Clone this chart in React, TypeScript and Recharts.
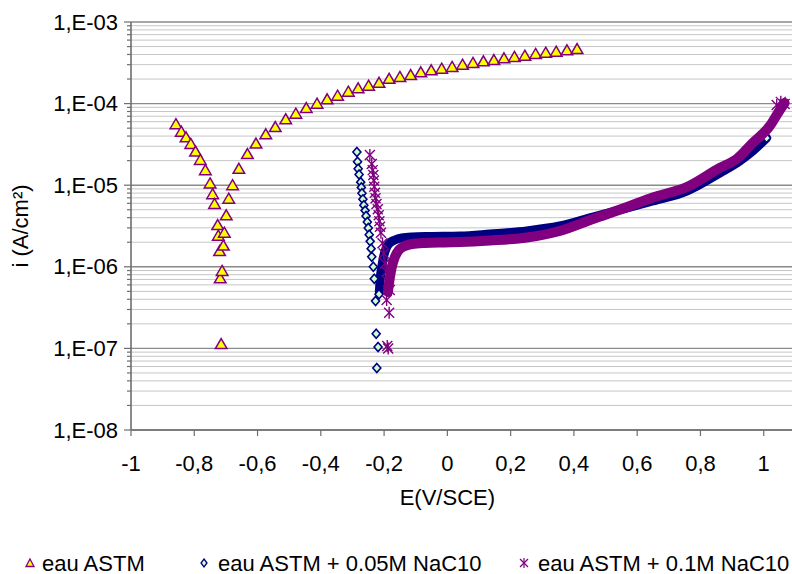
import React from 'react';
import { ScatterChart, Scatter, XAxis, YAxis, CartesianGrid, Label } from 'recharts';

// ---- data (E in V/SCE, i in A/cm²) ----
const astmE = [-0.858, -0.841, -0.826, -0.811, -0.796, -0.781, -0.765, -0.750, -0.742, -0.736, -0.726, -0.724, -0.720, -0.718, -0.715,
  -0.712, -0.708, -0.705, -0.699, -0.691, -0.679, -0.659, -0.632, -0.605,
  -0.574, -0.544, -0.511, -0.479, -0.446, -0.412, -0.380, -0.347, -0.313, -0.282, -0.249, -0.216, -0.184, -0.150, -0.116, -0.084,
  -0.051, -0.018, 0.015, 0.048, 0.081, 0.114, 0.147, 0.179, 0.212, 0.245, 0.279, 0.311, 0.344, 0.378, 0.410];
const astmI = [5.6e-5, 4.53e-5, 3.86e-5, 3.2e-5, 2.58e-5, 2.04e-5, 1.53e-5, 1.05e-5, 7.75e-6, 5.89e-6, 3.25e-6, 2.41e-6, 1.56e-6, 7.23e-7, 1.13e-7,
  8.9e-7, 1.82e-6, 2.62e-6, 4.28e-6, 6.84e-6, 1.0e-5, 1.59e-5, 2.41e-5, 3.24e-5,
  4.21e-5, 5.16e-5, 6.43e-5, 7.51e-5, 8.83e-5, 9.97e-5, 1.13e-4, 1.25e-4, 1.40e-4, 1.54e-4, 1.66e-4, 1.80e-4, 2.01e-4, 2.12e-4, 2.24e-4, 2.42e-4,
  2.56e-4, 2.68e-4, 2.81e-4, 3.0e-4, 3.15e-4, 3.30e-4, 3.42e-4, 3.59e-4, 3.73e-4, 3.87e-4, 4.06e-4, 4.21e-4, 4.32e-4, 4.50e-4, 4.66e-4];

// 0.05M NaC10 : isolated markers (cathodic branch + last point)
const na005E = [-0.286, -0.284, -0.282, -0.279, -0.274, -0.272, -0.270, -0.267, -0.264, -0.260, -0.257, -0.253, -0.250, -0.247, -0.244,
  -0.241, -0.239, -0.234, -0.231, -0.216, -0.227, -0.225, -0.219, -0.223, 1.009];
const na005I = [2.55e-5, 1.94e-5, 1.59e-5, 1.35e-5, 1.09e-5, 9.4e-6, 7.96e-6, 6.71e-6, 5.67e-6, 4.88e-6, 4.2e-6, 3.54e-6, 2.99e-6, 2.47e-6, 2.05e-6,
  1.67e-6, 1.33e-6, 1.0e-6, 7.15e-7, 4.6e-7, 3.81e-7, 1.51e-7, 1.04e-7, 5.75e-8, 3.79e-5];
// 0.05M NaC10 : dense anodic branch (markers merge into a band)
const na005BandE = [-0.215, -0.212, -0.207, -0.201, -0.193, -0.182, -0.166, -0.144, -0.112, -0.055, 0.040, 0.134, 0.251, 0.355, 0.460,
  0.545, 0.649, 0.757, 0.861, 0.924, 0.965, 1.009];
const na005BandI = [4.91e-7, 7.3e-7, 1.02e-6, 1.36e-6, 1.70e-6, 1.96e-6, 2.13e-6, 2.26e-6, 2.32e-6, 2.35e-6, 2.38e-6, 2.52e-6, 2.75e-6, 3.16e-6, 4.07e-6,
  4.97e-6, 6.4e-6, 8.49e-6, 1.41e-5, 1.98e-5, 2.62e-5, 3.79e-5];

// 0.1M NaC10 : isolated markers
const na01E = [-0.245, -0.239, -0.236, -0.234, -0.232, -0.231, -0.229, -0.227, -0.224, -0.220, -0.217, -0.215, -0.213, -0.210, -0.205,
  -0.201, -0.197, -0.192, -0.187, -0.182, -0.192, -0.184, -0.187, -0.190, 1.041, 1.054, 1.066];
const na01I = [2.34e-5, 1.82e-5, 1.53e-5, 1.33e-5, 1.14e-5, 9.6e-6, 8.09e-6, 6.9e-6, 5.89e-6, 5.07e-6, 4.28e-6, 3.61e-6, 3.1e-6, 2.62e-6, 1.94e-6,
  1.46e-6, 1.1e-6, 8.7e-7, 6.56e-7, 5.2e-7, 3.92e-7, 2.74e-7, 1.0e-7, 1.07e-7, 9.6e-5, 1.05e-4, 9.9e-5];
// 0.1M NaC10 : dense anodic branch
const na01BandE = [-0.188, -0.182, -0.175, -0.166, -0.153, -0.134, -0.112, -0.071, -0.008, 0.040, 0.134, 0.251, 0.355, 0.460, 0.577,
  0.649, 0.757, 0.861, 0.915, 0.965, 1.019, 1.051, 1.066];
const na01BandI = [4.91e-7, 7.3e-7, 1.02e-6, 1.32e-6, 1.61e-6, 1.80e-6, 1.90e-6, 1.96e-6, 1.99e-6, 2.01e-6, 2.1e-6, 2.29e-6, 2.75e-6, 3.85e-6, 5.56e-6,
  7.06e-6, 9.5e-6, 1.63e-5, 2.1e-5, 3.29e-5, 5.31e-5, 8.36e-5, 1.02e-4];

const seriesNames = ['eau ASTM', 'eau ASTM + 0.05M NaC10', 'eau ASTM + 0.1M NaC10'];
const xTicks = [-1, -0.8, -0.6, -0.4, -0.2, 0, 0.2, 0.4, 0.6, 0.8, 1];
const yMajorTicks = [1e-8, 1e-7, 1e-6, 1e-5, 1e-4, 1e-3];
const yTickLabels = ['1,E-08', '1,E-07', '1,E-06', '1,E-05', '1,E-04', '1,E-03'];
const minorFactors = [2, 3, 4, 5, 6, 7, 8, 9];

const yMinorTicks: number[] = [];
yMajorTicks.slice(0, -1).forEach((m) => minorFactors.forEach((f) => yMinorTicks.push(m * f)));
const yAllTicks = [...yMajorTicks, ...yMinorTicks].sort((a, b) => a - b);

const zip = (E: number[], I: number[]) => E.map((e, k) => ({ E: e, i: I[k] }));
const astmData = zip(astmE, astmI);
const na005Data = zip(na005E, na005I);
const na005Band = zip(na005BandE, na005BandI);
const na01Data = zip(na01E, na01I);
const na01Band = zip(na01BandE, na01BandI);

const FONT = '"Liberation Sans", Arial, sans-serif';
const PURPLE = '#800080';
const NAVY = '#000080';
const AXIS = '#6e6e6e';

const Triangle = (p: any) => {
  const { cx, cy } = p;
  if (cx == null || cy == null) return <g />;
  return (
    <path d={`M${cx},${cy - 5.5} L${cx + 5.8},${cy + 4.5} L${cx - 5.8},${cy + 4.5} Z`}
      fill="#ffff00" stroke={PURPLE} strokeWidth={1.5} strokeLinejoin="miter" />
  );
};
const Diamond = (p: any) => {
  const { cx, cy } = p;
  if (cx == null || cy == null) return <g />;
  return (
    <path d={`M${cx},${cy - 4.5} L${cx + 4},${cy} L${cx},${cy + 4.5} L${cx - 4},${cy} Z`}
      fill="#ccffcc" stroke={NAVY} strokeWidth={1.6} />
  );
};
const Asterisk = (p: any) => {
  const { cx, cy } = p;
  if (cx == null || cy == null) return <g />;
  return (
    <g stroke={PURPLE} strokeWidth={1.4}>
      <line x1={cx} y1={cy - 6} x2={cx} y2={cy + 6} />
      <line x1={cx - 5} y1={cy - 5} x2={cx + 5} y2={cy + 5} />
      <line x1={cx - 5} y1={cy + 5} x2={cx + 5} y2={cy - 5} />
    </g>
  );
};
const NoShape = () => <g />;

const YTick = (props: any) => {
  const { x, y, payload } = props;
  const v = payload.value;
  const idx = yMajorTicks.findIndex((m) => Math.abs(m - v) / m < 1e-6);
  const major = idx >= 0;
  return (
    <g>
      <line x1={x - (major ? 7 : 4)} x2={x} y1={y} y2={y} stroke={AXIS} strokeWidth={1.2} />
      {major && (
        <text x={x - 13} y={y} textAnchor="end" dominantBaseline="central" fontSize={22} fontFamily={FONT} fill="#000">
          {yTickLabels[idx]}
        </text>
      )}
    </g>
  );
};

const fmtX = (v: number) => String(v).replace('.', ',');

const LegendIcon = ({ kind }: { kind: number }) => (
  <svg width={14} height={14} style={{ display: 'block' }}>
    {kind === 0 && <path d="M7,3 L11,10.5 L3,10.5 Z" fill="#ffff00" stroke={PURPLE} strokeWidth={1.3} />}
    {kind === 1 && <path d="M7,3 L10,7 L7,11 L4,7 Z" fill="#ccffcc" stroke={NAVY} strokeWidth={1.3} />}
    {kind === 2 && (
      <g stroke={PURPLE} strokeWidth={1.2}>
        <line x1={7} y1={2} x2={7} y2={12} />
        <line x1={3} y1={3} x2={11} y2={11} />
        <line x1={3} y1={11} x2={11} y2={3} />
      </g>
    )}
  </svg>
);

const legendPos = [
  { icon: 23, text: 42 },
  { icon: 197, text: 218 },
  { icon: 517, text: 538 },
];

export default function App() {
  return (
    <div style={{ position: 'absolute', left: 0, top: 0, width: 792, height: 574, overflow: 'hidden', background: '#fff', fontFamily: FONT }}>
      <ScatterChart width={840} height={520} margin={{ top: 22, right: 13, bottom: 0, left: 0 }}>
        <CartesianGrid vertical={false} horizontalValues={yMinorTicks} stroke="#c6c6c6" strokeWidth={1} />
        <CartesianGrid vertical={false} horizontalValues={yMajorTicks} stroke="#8a8a8a" strokeWidth={1.4} />
        <XAxis type="number" dataKey="E" domain={[-1, 1.2]} ticks={xTicks} allowDataOverflow interval={0}
          tickFormatter={fmtX} height={90} tickSize={6} tickMargin={19}
          axisLine={{ stroke: AXIS, strokeWidth: 1.6 }} tickLine={{ stroke: AXIS, strokeWidth: 1.2 }}
          tick={{ fontSize: 22, fill: '#000', fontFamily: FONT }}>
          <Label content={(p: any) => {
            const vb = p.viewBox || {};
            const cx = vb.x + vb.width * (1 / 2.2);
            return (
              <text x={cx} y={vb.y + 67} textAnchor="middle" dominantBaseline="central" fontSize={22} fontFamily={FONT} fill="#000">
                E(V/SCE)
              </text>
            );
          }} />
        </XAxis>
        <YAxis type="number" dataKey="i" scale="log" domain={[1e-8, 1e-3]} ticks={yAllTicks} allowDataOverflow interval={0}
          width={131} tickSize={0} tickMargin={0} tickLine={false}
          axisLine={{ stroke: AXIS, strokeWidth: 1.6 }} tick={<YTick />}>
          <Label content={(p: any) => {
            const vb = p.viewBox || {};
            const cy = vb.y + vb.height / 2;
            return (
              <text x={20} y={cy} transform={`rotate(-90, 20, ${cy})`} textAnchor="middle" dominantBaseline="central"
                fontSize={22} fontFamily={FONT} fill="#000">
                i (A/cm²)
              </text>
            );
          }} />
        </YAxis>
        <Scatter name={seriesNames[0]} data={astmData} shape={<Triangle />} isAnimationActive={false} />
        <Scatter name={seriesNames[1] + ' band'} data={na005Band} shape={<NoShape />} isAnimationActive={false}
          lineJointType="monotoneX"
          line={{ stroke: NAVY, strokeWidth: 9, strokeLinecap: 'round', strokeLinejoin: 'round' }} />
        <Scatter name={seriesNames[1]} data={na005Data} shape={<Diamond />} isAnimationActive={false} />
        <Scatter name={seriesNames[2] + ' band'} data={na01Band} shape={<NoShape />} isAnimationActive={false}
          lineJointType="monotoneX"
          line={{ stroke: PURPLE, strokeWidth: 10, strokeLinecap: 'round', strokeLinejoin: 'round' }} />
        <Scatter name={seriesNames[2]} data={na01Data} shape={<Asterisk />} isAnimationActive={false} />
      </ScatterChart>
      <svg width={792} height={40} style={{ position: 'absolute', left: 0, top: 543 }}>
        {seriesNames.map((n, k) => (
          <g key={n}>
            <g transform={`translate(${legendPos[k].icon}, 13)`}>
              <LegendIconShape kind={k} />
            </g>
            <text x={legendPos[k].text} y={20} dominantBaseline="central" fontSize={22} fontFamily={FONT} fill="#000">{n}</text>
          </g>
        ))}
      </svg>
    </div>
  );
}

function LegendIconShape({ kind }: { kind: number }) {
  if (kind === 0) return <path d="M7,3 L11,10.5 L3,10.5 Z" fill="#ffff00" stroke={PURPLE} strokeWidth={1.3} />;
  if (kind === 1) return <path d="M7,3 L10,7 L7,11 L4,7 Z" fill="#ccffcc" stroke={NAVY} strokeWidth={1.3} />;
  return (
    <g stroke={PURPLE} strokeWidth={1.2}>
      <line x1={7} y1={2} x2={7} y2={12} />
      <line x1={3} y1={3} x2={11} y2={11} />
      <line x1={3} y1={11} x2={11} y2={3} />
    </g>
  );
}
